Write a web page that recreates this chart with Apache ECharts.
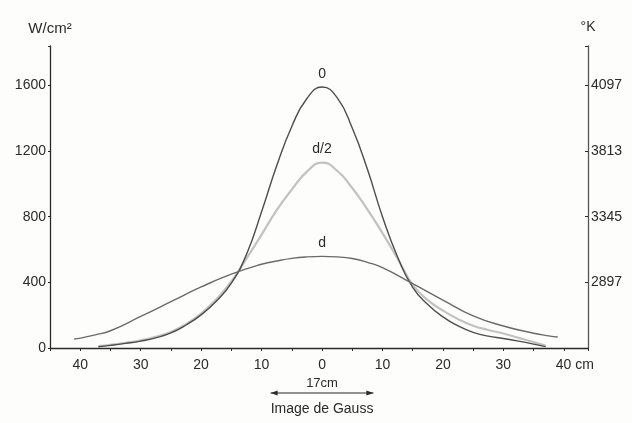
<!DOCTYPE html>
<html>
<head>
<meta charset="utf-8">
<script src="https://cdn.jsdelivr.net/npm/echarts@6/dist/echarts.min.js"></script>
<style>
  html, body { margin: 0; padding: 0; background: #fdfdfc; }
  #main { width: 632px; height: 423px; }
</style>
</head>
<body>
<div id="main"></div>
<script>
// position on the screen (cm) and flux (W/cm2)
var pos0  = [-37, -35, -32.5, -30, -27.5, -25, -22.5, -20, -17.5, -15, -12.5, -10, -7.5, -5, -2.5, 0,
             2.5, 5, 7.5, 10, 12.5, 15, 17.5, 20, 22.5, 25, 27.5, 30, 32.5, 35, 37];
var flux0 = [8, 16, 28, 42, 62, 92, 140, 202, 285, 395, 570, 830, 1110, 1350, 1520, 1590,
             1525, 1340, 1090, 800, 555, 370, 265, 190, 135, 95, 72, 58, 42, 24, 8];

var posHalf  = [-37, -35, -32.5, -30, -27.5, -25, -22.5, -20, -17.5, -15, -12.5, -10, -7.5, -5, -2.5, 0,
                2.5, 5, 7.5, 10, 12.5, 15, 17.5, 20, 22.5, 25, 27.5, 30, 32.5, 35, 37];
var fluxHalf = [12, 20, 32, 46, 68, 98, 145, 210, 295, 405, 545, 690, 840, 965, 1075, 1130,
                1080, 975, 845, 700, 545, 385, 292, 228, 176, 136, 110, 88, 62, 36, 14];

var posD  = [-41, -40, -37.5, -35, -30, -25, -20, -15, -10, -7.5, -5, -2.5, 0, 2.5, 5, 7.5, 10, 15, 20, 25, 30, 35, 37.5, 39];
var fluxD = [55, 60, 80, 105, 192, 282, 372, 450, 510, 530, 546, 555, 558, 555, 545, 522, 490, 392, 292, 196, 134, 90, 74, 67];

// right-hand temperature scale (deg K) against the flux ticks
var tempTicks  = [400, 800, 1200, 1600];
var tempLabels = ['2897', '3345', '3813', '4097'];

var gaussWidth = 17; // cm

var font = 'Liberation Sans';
var ink = '#2a2a2a';

function pairs(xs, ys, name) {
    return xs.map(function (x, i) {
        if (x === 0) {
            return { value: [x, ys[i]], label: { show: true, formatter: name } };
        }
        return [x, ys[i]];
    });
}

function curve(name, xs, ys, color, width) {
    return {
        name: name,
        type: 'line',
        smooth: 0.5,
        showSymbol: true,
        symbol: 'circle',
        symbolSize: 0,
        data: pairs(xs, ys, name),
        lineStyle: { color: color, width: width },
        itemStyle: { color: color },
        label: {
            show: false,
            position: 'top',
            distance: 6,
            color: ink,
            fontFamily: font,
            fontSize: 14
        },
        z: width > 2 ? 2 : 3
    };
}

var chart = echarts.init(document.getElementById('main'));

chart.setOption({
    backgroundColor: '#fdfdfc',
    animation: false,
    grid: { left: 50, right: 44, top: 46, bottom: 75 },
    xAxis: {
        type: 'value',
        min: -45,
        max: 44,
        interval: 5,
        splitLine: { show: false },
        axisLine: { onZero: false, lineStyle: { color: ink, width: 1.3 } },
        axisTick: { length: 3, lineStyle: { color: ink } },
        axisLabel: {
            margin: 10,
            color: ink,
            fontFamily: font,
            fontSize: 14,
            formatter: function (v) {
                if (v % 10 !== 0 || Math.abs(v) > 40) return '';
                if (v === 40) return '{gap| }40{u| cm}';
                return String(Math.abs(v));
            },
            rich: {
                gap: { width: 22, fontFamily: font, fontSize: 14 },
                u: { color: ink, fontFamily: font, fontSize: 14 }
            }
        }
    },
    yAxis: [{
        type: 'value',
        min: 0,
        max: 1840,
        interval: 400,
        name: 'W/cm²',
        nameLocation: 'end',
        nameGap: 10,
        nameTextStyle: { color: ink, fontFamily: font, fontSize: 15 },
        splitLine: { show: false },
        axisLine: { show: true, onZero: false, lineStyle: { color: ink, width: 1.3 } },
        axisTick: { length: 2, lineStyle: { color: ink } },
        axisLabel: {
            margin: 4,
            color: ink,
            fontFamily: font,
            fontSize: 14,
            formatter: function (v) { return v <= 1600 ? String(v) : ''; }
        }
    }, {
        type: 'value',
        position: 'right',
        min: 0,
        max: 1840,
        interval: 400,
        name: '°K',
        nameLocation: 'end',
        nameGap: 12,
        nameTextStyle: { color: ink, fontFamily: font, fontSize: 14 },
        splitLine: { show: false },
        axisLine: { show: true, onZero: false, lineStyle: { color: '#555', width: 1.3 } },
        axisTick: { inside: true, length: 3, lineStyle: { color: ink } },
        axisLabel: {
            margin: 3,
            color: ink,
            fontFamily: font,
            fontSize: 14,
            formatter: function (v) {
                var i = tempTicks.indexOf(v);
                return i >= 0 ? tempLabels[i] : '';
            }
        }
    }],
    series: [
        curve('d/2', posHalf, fluxHalf, '#c2c2c2', 2.2),
        curve('0', pos0, flux0, '#4d4d4d', 1.4),
        curve('d', posD, fluxD, '#6a6a6a', 1.4)
    ]
});

// Gauss image width arrow under the axis
var xl = chart.convertToPixel({ xAxisIndex: 0 }, -gaussWidth / 2);
var xr = chart.convertToPixel({ xAxisIndex: 0 }, gaussWidth / 2);
var xm = (xl + xr) / 2;
var ay = 393;

chart.setOption({
    graphic: [
        { type: 'line', shape: { x1: xl, y1: ay, x2: xr, y2: ay }, style: { stroke: ink, lineWidth: 1 } },
        { type: 'polygon', shape: { points: [[xl, ay], [xl + 7, ay - 2.5], [xl + 7, ay + 2.5]] }, style: { fill: ink } },
        { type: 'polygon', shape: { points: [[xr, ay], [xr - 7, ay - 2.5], [xr - 7, ay + 2.5]] }, style: { fill: ink } },
        { type: 'text', x: xm, y: 383, style: { text: gaussWidth + 'cm', fill: ink, font: '13px "Liberation Sans"', align: 'center', verticalAlign: 'middle' } },
        { type: 'text', x: xm, y: 409, style: { text: 'Image de Gauss', fill: ink, font: '14px "Liberation Sans"', align: 'center', verticalAlign: 'middle' } }
    ]
});
</script>
</body>
</html>
